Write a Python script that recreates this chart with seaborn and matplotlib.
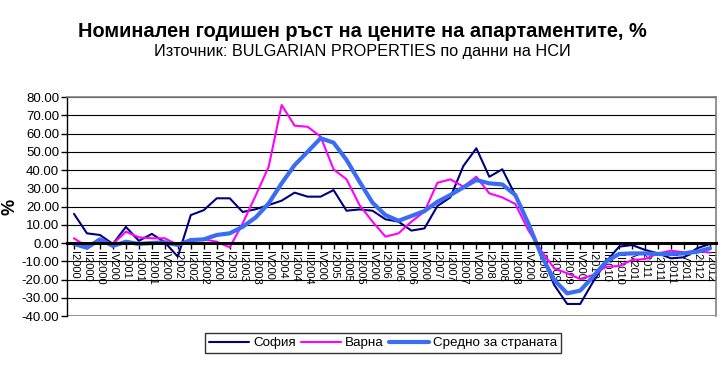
import matplotlib
matplotlib.use('Agg')

import matplotlib.pyplot as plt
import seaborn as sns
import numpy as np
import pandas as pd

# Quarterly labels as shown on the chart (IV labels are clipped in the original)
years = list(range(2000, 2013))
labels = []
for y in years:
    for q in ['I', 'II', 'III', 'IV']:
        if q == 'IV':
            labels.append('IV' + str(y)[:3])
        else:
            labels.append(q + str(y))
labels = labels[:50]  # I2000 .. II2012

sofia = [16.0, 5.3, 4.4, -0.5, 8.8, 1.2, 5.0, 0.4, -7.5, 15.3,
         18.0, 24.5, 24.5, 17.0, 18.5, 20.8, 23.2, 27.6, 25.4, 25.4,
         29.0, 17.7, 18.4, 17.7, 13.0, 11.7, 6.8, 8.0, 20.3, 25.0,
         42.2, 51.9, 36.3, 40.4, 26.3, 10.8, -5.7, -23.0, -33.4, -33.4,
         -21.2, -10.2, -2.0, -1.1, -3.8, -5.7, -8.4, -7.8, -2.9, -0.5]

varna = [2.6, -2.0, 2.0, -0.5, 6.2, 3.1, 2.6, 2.6, -1.1, 2.0,
         2.0, 0.7, -2.4, 10.8, 26.0, 41.8, 75.6, 64.3, 63.7, 58.3,
         40.4, 34.9, 20.8, 11.7, 3.5, 5.3, 11.7, 17.2, 33.0, 34.9,
         30.9, 36.3, 27.2, 25.0, 21.4, 7.1, -4.2, -13.9, -16.6, -19.7,
         -17.5, -13.0, -12.6, -9.3, -8.8, -5.7, -4.2, -5.1, -4.2, -5.3]

average = [-0.5, -2.6, 2.0, -1.6, 0.7, -0.5, 0.0, 0.4, -1.1, 1.6,
           2.0, 4.4, 5.3, 8.9, 14.0, 21.7, 32.7, 42.7, 50.0, 57.4,
           55.0, 45.5, 33.6, 22.1, 15.3, 12.2, 14.8, 17.5, 22.6, 26.3,
           30.5, 34.5, 32.7, 32.1, 26.3, 10.8, -6.6, -20.3, -27.6, -26.1,
           -18.4, -10.2, -6.0, -5.7, -5.7, -6.0, -6.0, -5.7, -4.8, -2.9]

series_names = ['София', 'Варна', 'Средно за страната']
colors = ['#000080', '#FF00FF', '#3A6CF4']
widths = [1.5, 1.5, 3.0]

df = pd.DataFrame({
    'q': np.tile(np.arange(len(labels)), 3),
    'value': sofia + varna + average,
    'series': np.repeat(series_names, len(labels)),
})

sns.set_style('white')
plt.rcParams['font.family'] = ['Liberation Sans', 'DejaVu Sans']
plt.rcParams['text.color'] = 'black'
plt.rcParams['axes.labelcolor'] = 'black'
plt.rcParams['xtick.color'] = 'black'
plt.rcParams['ytick.color'] = 'black'

fig = plt.figure(figsize=(7.24, 3.8), dpi=100)
ax = fig.add_axes([0.0932, 0.1684, 0.8964, 0.5763])

for name, col, lw in zip(series_names, colors, widths):
    sns.lineplot(data=df[df['series'] == name], x='q', y='value', color=col,
                 linewidth=lw, label=name, ax=ax, legend=False)

# spine position first (it resets the ticks)
ax.spines['bottom'].set_position(('data', 0))
ax.spines['bottom'].set_linewidth(2.2)
ax.spines['bottom'].set_color('black')
ax.spines['left'].set_color('black')
ax.spines['left'].set_linewidth(1)
for s in ['top', 'right']:
    ax.spines[s].set_color('#808080')
    ax.spines[s].set_linewidth(1.2)

ax.set_xlim(-0.5, len(labels) - 0.5)
ax.set_ylim(-40, 80)
ax.set_yticks(np.arange(-40, 81, 10))
ax.set_yticklabels([f'{v:.2f}' for v in np.arange(-40, 81, 10)], fontsize=9.5)
for v in np.arange(-40, 81, 10):
    if v != 0:
        ax.axhline(v, color='black', linewidth=0.8, zorder=0)
ax.axhline(-40, color='#808080', linewidth=1.2, zorder=1)

ax.set_xticks(np.arange(len(labels)))
ax.set_xticklabels(labels, fontsize=8)
plt.setp(ax.get_xticklabels(), rotation=270, va='top', ha='center',
         rotation_mode='default')
ax.tick_params(axis='x', direction='out', length=4, width=1, pad=2, bottom=True)
ax.tick_params(axis='y', direction='out', length=4, width=1, pad=2, left=True)

ax.set_xlabel('')
ax.set_ylabel('%', fontsize=13, fontweight='bold', labelpad=2)

fig.text(0.5, 0.917, 'Номинален годишен ръст на цените на апартаментите, %',
         ha='center', va='center', fontsize=14.4, fontweight='bold')
fig.text(0.5, 0.865, 'Източник: BULGARIAN PROPERTIES по данни на НСИ',
         ha='center', va='center', fontsize=11.7)

handles, lbls = ax.get_legend_handles_labels()
leg = fig.legend(handles, lbls, loc='center', ncol=3,
                 bbox_to_anchor=(383 / 724, 1 - 343 / 380), fontsize=9.6,
                 frameon=True, fancybox=False, edgecolor='black',
                 handlelength=3, handletextpad=0.3, columnspacing=0.4,
                 borderpad=0.3)
leg.get_frame().set_linewidth(1)

plt.savefig('out.png', dpi=100)
